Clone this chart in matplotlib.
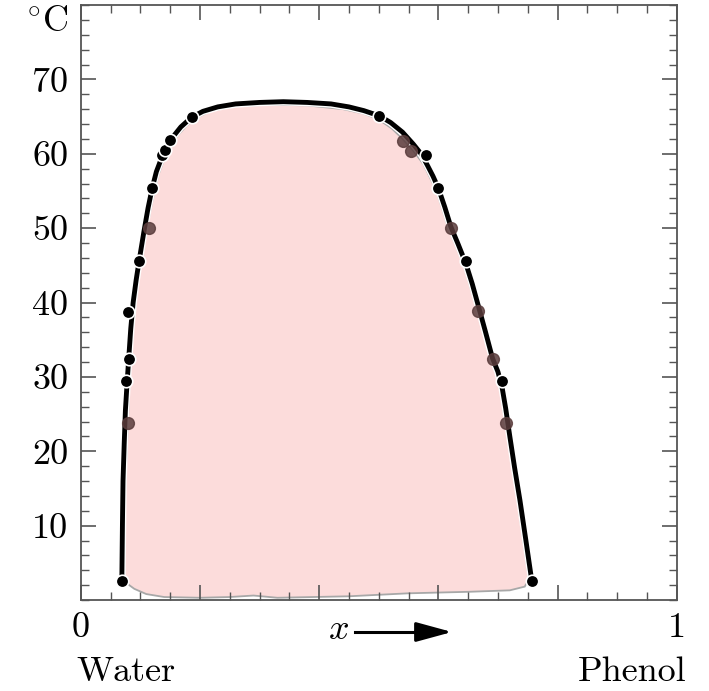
import numpy as np
import matplotlib.pyplot as plt
import matplotlib.patheffects as pe
from matplotlib.ticker import MultipleLocator

plt.rcParams['font.family'] = 'cmr10'
plt.rcParams['mathtext.fontset'] = 'cm'
plt.rcParams['axes.formatter.use_mathtext'] = True

# coexistence curve (black line)
curve_x = [0.069, 0.070, 0.071, 0.073, 0.075, 0.078, 0.081, 0.084, 0.088, 0.093, 0.098,
           0.106, 0.113, 0.120, 0.127, 0.136, 0.145, 0.155, 0.168, 0.186, 0.205, 0.230,
           0.260, 0.300, 0.340, 0.380, 0.420, 0.450, 0.475, 0.501, 0.520, 0.540, 0.558,
           0.572, 0.582, 0.591, 0.600, 0.611, 0.621, 0.633, 0.646, 0.657, 0.667, 0.679,
           0.691, 0.700, 0.707, 0.713, 0.720, 0.728, 0.737, 0.747, 0.757]
curve_y = [2.5, 10.0, 16.0, 21.0, 25.5, 29.4, 33.0, 36.5, 40.0, 43.0, 45.6,
           49.5, 52.7, 55.4, 57.6, 59.5, 61.0, 62.3, 63.6, 64.9, 65.7, 66.3,
           66.7, 66.9, 67.0, 66.9, 66.7, 66.3, 65.8, 65.1, 64.2, 62.9, 61.3,
           59.9, 58.4, 57.0, 55.4, 52.8, 50.2, 47.9, 45.3, 42.5, 39.6, 36.1,
           32.5, 30.7, 28.6, 25.8, 22.0, 17.8, 13.4, 8.0, 2.5]

# black data points
pts_x = [0.069, 0.076, 0.081, 0.079, 0.098, 0.120, 0.136, 0.141, 0.150, 0.186,
         0.501, 0.579, 0.600, 0.646, 0.707, 0.757]
pts_y = [2.5, 29.4, 32.4, 38.7, 45.6, 55.4, 59.8, 60.5, 61.8, 65.0,
         65.1, 59.8, 55.4, 45.6, 29.5, 2.5]

# brownish data points
pts2_x = [0.079, 0.115, 0.540, 0.555, 0.621, 0.667, 0.691, 0.713]
pts2_y = [23.8, 50.0, 61.7, 60.4, 50.0, 38.8, 32.4, 23.8]

# pink two-phase region
reg_x = [0.072, 0.073, 0.075, 0.078, 0.082, 0.088, 0.095, 0.101, 0.109, 0.116, 0.124,
         0.131, 0.140, 0.150, 0.162, 0.178, 0.196, 0.220, 0.260, 0.320, 0.380, 0.440,
         0.475, 0.500, 0.522, 0.540, 0.558, 0.575, 0.597, 0.617, 0.643, 0.665, 0.688,
         0.703, 0.712, 0.730, 0.748, 0.752, 0.745, 0.720, 0.650, 0.550, 0.450, 0.330,
         0.290, 0.250, 0.200, 0.140, 0.110, 0.090, 0.078]
reg_y = [3.0, 10.0, 16.0, 21.5, 29.5, 37.5, 42.5, 45.5, 49.0, 52.0, 55.0,
         57.3, 59.2, 60.8, 62.4, 63.8, 64.9, 65.8, 66.4, 66.6, 66.5, 66.0,
         65.4, 64.6, 63.4, 62.0, 60.4, 58.6, 55.0, 50.0, 45.0, 39.0, 32.5,
         29.0, 24.0, 15.0, 5.0, 2.8, 1.8, 1.3, 1.1, 0.9, 0.5, 0.3,
         0.6, 0.4, 0.3, 0.4, 0.8, 1.5, 2.2]

fig = plt.figure(figsize=(7.09, 6.91), dpi=100)
ax = fig.add_axes([80.7 / 709, 91 / 691, 596 / 709, 595 / 691])

ax.fill(reg_x, reg_y, facecolor='#fcdcdb', edgecolor='#a8a8a8', linewidth=1.3, zorder=1)
ax.plot(curve_x, curve_y, color='black', linewidth=3.5, solid_capstyle='butt',
        solid_joinstyle='round', zorder=3,
        path_effects=[pe.Stroke(linewidth=5.5, foreground='white'), pe.Normal()])
ax.plot(pts2_x, pts2_y, 'o', color='#5a3c3c', markersize=8.5, alpha=0.85, zorder=4)
ax.plot(pts_x, pts_y, 'o', color='black', markeredgecolor='white', markeredgewidth=1.2,
        markersize=9, zorder=5)

ax.set_xlim(0, 1)
ax.set_ylim(0, 80)

ax.xaxis.set_minor_locator(MultipleLocator(0.05))
ax.yaxis.set_minor_locator(MultipleLocator(2))
ax.set_xticks([0, 0.2, 0.4, 0.6, 0.8, 1.0])
ax.set_xticklabels(['0', '', '', '', '', '1'])
ax.set_yticks([10, 20, 30, 40, 50, 60, 70])
ax.set_yticklabels(['10', '20', '30', '40', '50', '60', '70'])

ax.tick_params(which='both', direction='in', top=True, right=True, color='#555555')
ax.tick_params(which='major', length=11, width=1.2, labelsize=26, pad=9)
ax.tick_params(which='minor', length=6, width=1.0)
for s in ax.spines.values():
    s.set_color('#555555')
    s.set_linewidth(1.3)

fig.text(47 / 709, 1 - 22 / 691, r'${}^{\circ}\mathrm{C}$', fontsize=26, ha='center', va='center')
fig.text(76 / 709, 1 - 672 / 691, 'Water', fontsize=26, ha='left', va='center')
fig.text(686 / 709, 1 - 672 / 691, 'Phenol', fontsize=26, ha='right', va='center')
fig.text(339 / 709, 1 - 630 / 691, r'$x$', fontsize=26, ha='center', va='center')
fig.add_artist(plt.Line2D([355 / 709, 422 / 709], [1 - 632 / 691, 1 - 632 / 691],
                          color='black', linewidth=2.2))
ax.annotate('', xy=(452 / 709, 1 - 632 / 691), xytext=(415 / 709, 1 - 632 / 691),
            xycoords='figure fraction', textcoords='figure fraction',
            arrowprops=dict(arrowstyle='-|>,head_length=2.2,head_width=0.6',
                            color='black', linewidth=2.2, shrinkA=0, shrinkB=0))

fig.savefig('out.png', dpi=100)
